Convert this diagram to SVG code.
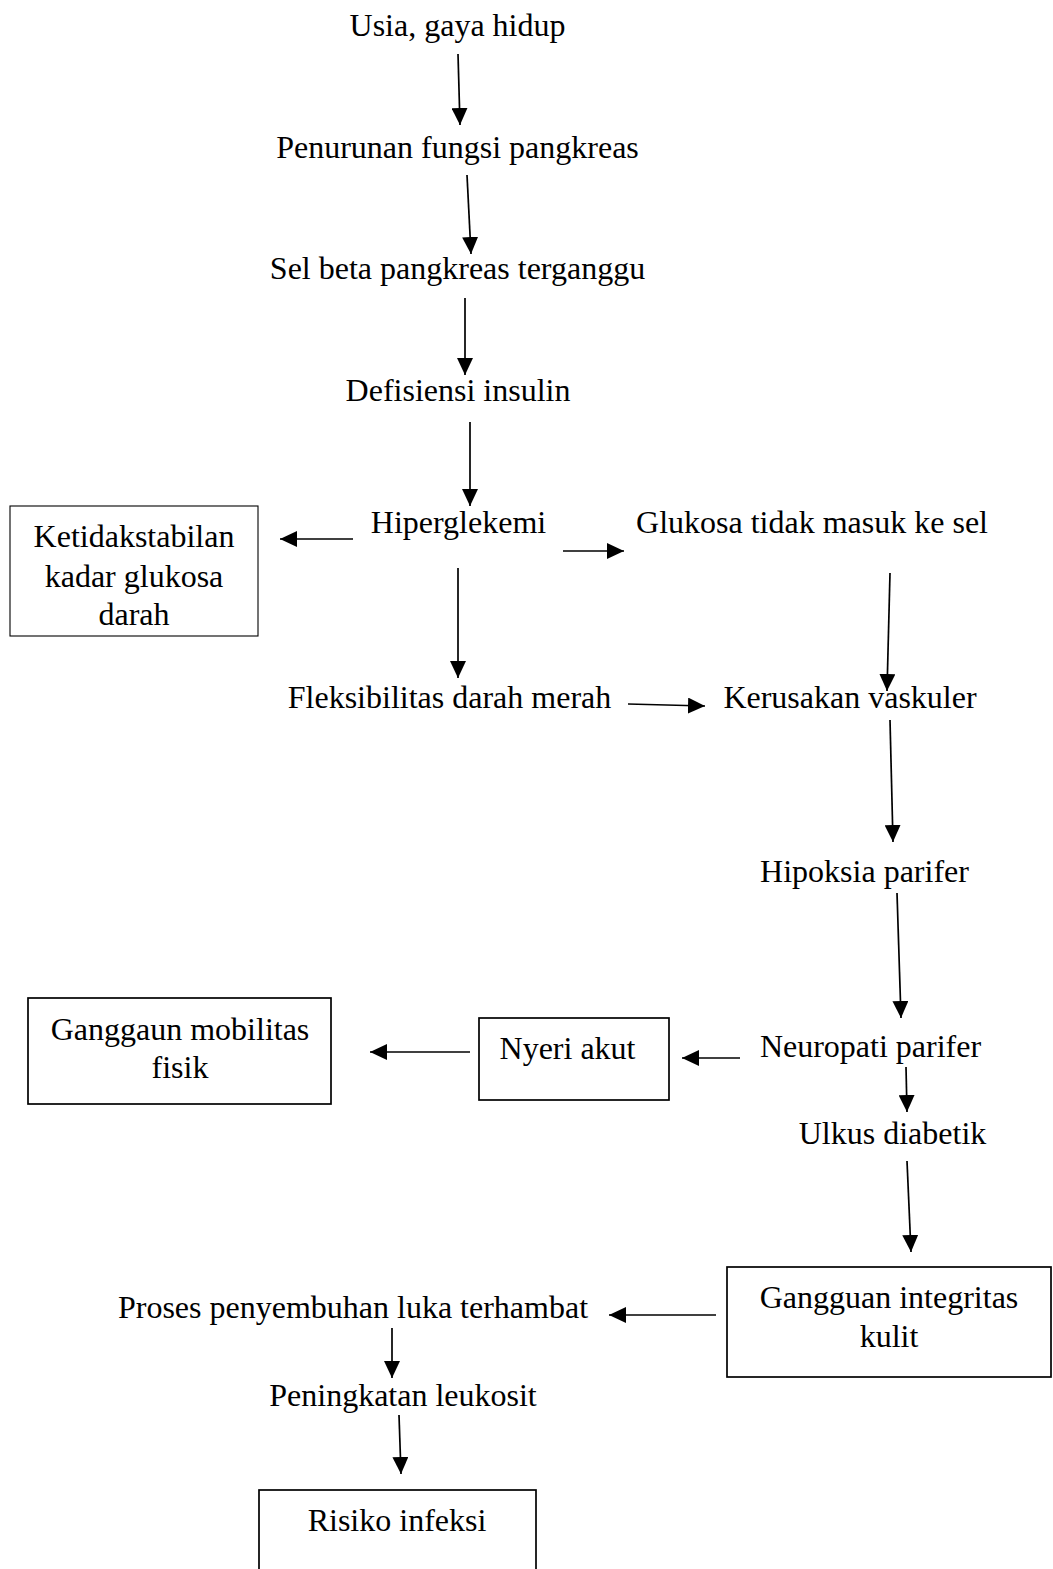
<svg xmlns="http://www.w3.org/2000/svg" width="1053" height="1569" viewBox="0 0 1053 1569">
<style>
text{font-family:"Liberation Serif","Times New Roman",serif;font-size:32px;fill:#000;text-anchor:middle}
.box{fill:none;stroke:#000;stroke-width:1.7}
.thin{fill:none;stroke:#000;stroke-width:1.1}
.c line{stroke:#000;stroke-width:1.7;marker-end:url(#ah)}
</style>
<defs>
<marker id="ah" markerUnits="userSpaceOnUse" markerWidth="17" markerHeight="16" refX="17" refY="8" orient="auto">
<path d="M0,0 L17,8 L0,16 z" fill="#000"/>
</marker>
</defs>
<rect width="1053" height="1569" fill="#fff"/>
<g id="n1"><text x="457.5" y="36">Usia, gaya hidup</text></g>
<g id="n2"><text x="457.5" y="158">Penurunan fungsi pangkreas</text></g>
<g id="n3"><text x="457.5" y="279">Sel beta pangkreas terganggu</text></g>
<g id="n4"><text x="458" y="401">Defisiensi insulin</text></g>
<g id="n5"><text x="458.5" y="533">Hiperglekemi</text></g>
<g id="n6"><rect class="thin" x="10" y="506" width="248" height="130"/><text x="134" y="547">Ketidakstabilan</text><text x="134" y="587">kadar glukosa</text><text x="134" y="625">darah</text></g>
<g id="n7"><text x="812" y="533">Glukosa tidak masuk ke sel</text></g>
<g id="n8"><text x="449.5" y="708">Fleksibilitas darah merah</text></g>
<g id="n9"><text x="850" y="708">Kerusakan vaskuler</text></g>
<g id="n10"><text x="864.5" y="882">Hipoksia parifer</text></g>
<g id="n11"><text x="870.5" y="1057">Neuropati parifer</text></g>
<g id="n12"><rect class="box" x="479" y="1018" width="190" height="82"/><text x="567.5" y="1059">Nyeri akut</text></g>
<g id="n13"><rect class="box" x="28" y="998" width="303" height="106"/><text x="180" y="1040">Ganggaun mobilitas</text><text x="180" y="1078">fisik</text></g>
<g id="n14"><text x="892.5" y="1144">Ulkus diabetik</text></g>
<g id="n15"><rect class="box" x="727" y="1267" width="324" height="110"/><text x="889" y="1308">Gangguan integritas</text><text x="889" y="1347">kulit</text></g>
<g id="n16"><text x="353" y="1318">Proses penyembuhan luka terhambat</text></g>
<g id="n17"><text x="403" y="1406">Peningkatan leukosit</text></g>
<g id="n18"><rect class="box" x="259" y="1490" width="277" height="100"/><text x="397" y="1531">Risiko infeksi</text></g>
<g id="connectors" class="c">
<line x1="458" y1="54" x2="460" y2="125"/>
<line x1="467" y1="175" x2="471" y2="254"/>
<line x1="465" y1="298" x2="465" y2="375"/>
<line x1="470" y1="422" x2="470" y2="506"/>
<line x1="353" y1="539" x2="280" y2="539"/>
<line x1="563" y1="551" x2="624" y2="551"/>
<line x1="458" y1="568" x2="458" y2="678"/>
<line x1="890" y1="573" x2="887" y2="691"/>
<line x1="628" y1="704" x2="705" y2="706"/>
<line x1="890" y1="720" x2="893" y2="842"/>
<line x1="897" y1="893" x2="901" y2="1018"/>
<line x1="740" y1="1058" x2="682" y2="1058"/>
<line x1="470" y1="1052" x2="370" y2="1052"/>
<line x1="906" y1="1067" x2="907" y2="1112"/>
<line x1="907" y1="1161" x2="911" y2="1252"/>
<line x1="716" y1="1315" x2="609" y2="1315"/>
<line x1="392" y1="1328" x2="392" y2="1378"/>
<line x1="399" y1="1415" x2="401" y2="1474"/>
</g>
</svg>
